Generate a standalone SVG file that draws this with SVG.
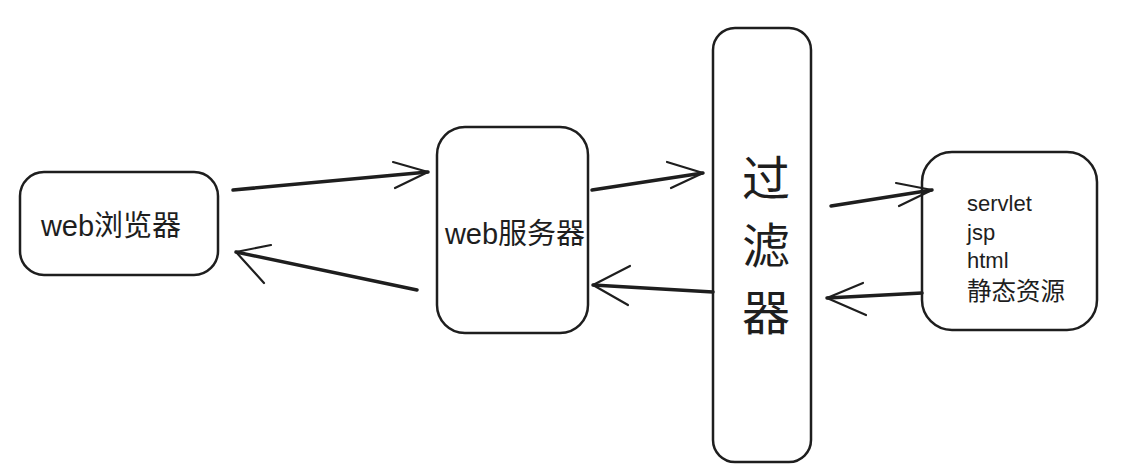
<svg xmlns="http://www.w3.org/2000/svg" width="1125" height="470" viewBox="0 0 1125 470">
<style>
.box{fill:#fff;stroke:#1e1e1e;stroke-width:2.5}
.ln{fill:none;stroke:#1e1e1e;stroke-width:3.5;stroke-linecap:round;stroke-linejoin:round}
.hd{fill:none;stroke:#1e1e1e;stroke-width:2.2;stroke-linecap:round;stroke-linejoin:round}
text{font-family:"Liberation Sans","Noto Sans CJK SC",sans-serif;fill:#1e1e1e}
</style>
<rect width="1125" height="470" fill="#fff"/>
<g id="browser">
<rect class="box" x="20" y="172" width="198" height="103" rx="24"/>
<text x="111" y="236" font-size="29" text-anchor="middle">web浏览器</text>
</g>
<g id="server">
<rect class="box" x="437" y="127" width="151" height="206" rx="28"/>
<text x="515" y="244" font-size="29" text-anchor="middle">web服务器</text>
</g>
<g id="filter">
<rect class="box" x="713" y="28" width="98" height="434" rx="22"/>
<text x="766" y="196" font-size="48" text-anchor="middle">过</text>
<text x="766" y="263" font-size="48" text-anchor="middle">滤</text>
<text x="766" y="330" font-size="48" text-anchor="middle">器</text>
</g>
<g id="resources">
<rect class="box" x="922" y="152" width="175" height="178" rx="30"/>
<text x="967" y="211" font-size="22">servlet</text>
<text x="967" y="240" font-size="22">jsp</text>
<text x="967" y="268" font-size="22">html</text>
<text x="967" y="300" font-size="24.5">静态资源</text>
</g>
<g id="connectors">
<path class="ln" d="M233 190 L428 172"/>
<path class="hd" d="M393 162 L428 172 L395 188"/>
<path class="ln" d="M417 290 L236 252"/>
<path class="hd" d="M271 245 L236 252 L264 283"/>
<path class="ln" d="M592 190 L703 173"/>
<path class="hd" d="M667 162 L703 173 L671 188"/>
<path class="ln" d="M831 206 L932 190"/>
<path class="hd" d="M896 183 L932 190 L899 206"/>
<path class="ln" d="M922 293 L827 298"/>
<path class="hd" d="M863 283 L827 298 L866 315"/>
<path class="ln" d="M713 292 L593 285"/>
<path class="hd" d="M630 266 L593 285 L628 305"/>
</g>
</svg>
